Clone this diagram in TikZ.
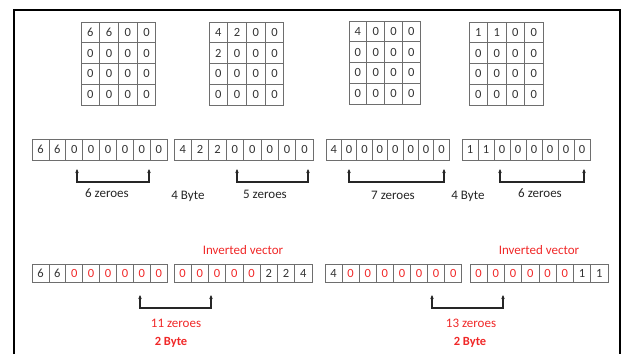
\documentclass[tikz,border=0pt]{standalone}
\usepackage{fontspec}
\setmainfont{Carlito}
\usetikzlibrary{arrows.meta}
\definecolor{txtred}{RGB}{240,40,40}
\definecolor{cellline}{RGB}{110,110,110}
\tikzset{
  cell/.style={draw=cellline, line width=0.8pt, inner sep=0pt, outer sep=0pt, text=black!80, font=\fontsize{12.5}{14}\selectfont},
  brk/.style={draw=black!85, line width=1.1pt, {Stealth[length=4pt,width=3.5pt]}-{Stealth[length=4pt,width=3.5pt]}},
  lbl/.style={inner sep=0pt, font=\fontsize{13}{15}\selectfont, text=black!85},
  rlbl/.style={inner sep=0pt, font=\fontsize{13}{15}\selectfont, text=txtred},
  blbl/.style={inner sep=0pt, font=\fontsize{12.5}{15}\selectfont\bfseries, text=txtred},
  frame/.style={draw=black, line width=2pt}
}
\newcommand\mygrid[5]{%
  \foreach \row [count=\r] in {#5} {
    \foreach \v [count=\c] in \row {
      \node[cell, minimum width=#4pt, minimum height=20.75pt] (#1-\r-\c) at ({#2+(\c-0.5)*#4},{#3+(\r-0.5)*20.75}) {\v};
    }
  }%
}
\newcommand\myvec[6]{%
  \foreach \v/\cl [count=\i] in {#6} {
    \node[cell, text=\cl, minimum width=#4pt, minimum height=#5pt] (#1-\i) at ({#2+(\i-0.5)*#4},{#3+#5/2}) {\v};
  }%
}
\begin{document}
\begin{tikzpicture}[x=1pt,y=-1pt]
\useasboundingbox (0,0) rectangle (623,354);
\draw[frame] (14,354) -- (14,10) -- (620,10) -- (620,354);

% matrices
\mygrid{ma}{81}{22}{18.7}{{6,6,0,0},{0,0,0,0},{0,0,0,0},{0,0,0,0}}
\mygrid{mb}{209}{22}{18.7}{{4,2,0,0},{2,0,0,0},{0,0,0,0},{0,0,0,0}}
\mygrid{mc}{349}{21}{17.8}{{4,0,0,0},{0,0,0,0},{0,0,0,0},{0,0,0,0}}
\mygrid{md}{469}{22}{18.5}{{1,1,0,0},{0,0,0,0},{0,0,0,0},{0,0,0,0}}

% first vectors
\myvec{va}{32}{139}{16.9}{21}{6/black!80,6/black!80,0/black!80,0/black!80,0/black!80,0/black!80,0/black!80,0/black!80}
\myvec{vb}{174}{139}{17.4}{21}{4/black!80,2/black!80,2/black!80,0/black!80,0/black!80,0/black!80,0/black!80,0/black!80}
\myvec{vc}{326}{139}{15.4}{21}{4/black!80,0/black!80,0/black!80,0/black!80,0/black!80,0/black!80,0/black!80,0/black!80}
\myvec{vd}{462}{139}{16}{21}{1/black!80,1/black!80,0/black!80,0/black!80,0/black!80,0/black!80,0/black!80,0/black!80}

\coordinate (ba1) at (77,169);  \coordinate (ba2) at (149,169);
\coordinate (bb1) at (237,169); \coordinate (bb2) at (308,169);
\coordinate (bc1) at (349,169); \coordinate (bc2) at (444,169);
\coordinate (bd1) at (500,169); \coordinate (bd2) at (584,169);
\draw[brk] (ba1) -- ++(0,13) -| (ba2);
\draw[brk] (bb1) -- ++(0,13) -| (bb2);
\draw[brk] (bc1) -- ++(0,13) -| (bc2);
\draw[brk] (bd1) -- ++(0,13) -| (bd2);

\node[lbl] (ta) at (107,193) {6 zeroes};
\node[lbl] (tab) at (188,196) {4 Byte};
\node[lbl] (tb) at (265,194) {5 zeroes};
\node[lbl] (tc) at (393,195) {7 zeroes};
\node[lbl] (tcd) at (468,196) {4 Byte};
\node[lbl] (td) at (540,193) {6 zeroes};

% second vectors
\myvec{ve}{32}{264}{16.9}{18}{6/black!80,6/black!80,0/txtred,0/txtred,0/txtred,0/txtred,0/txtred,0/txtred}
\myvec{vf}{174}{264}{17.25}{18}{0/txtred,0/txtred,0/txtred,0/txtred,0/txtred,2/black!80,2/black!80,4/black!80}
\myvec{vg}{325}{264}{17.1}{18}{4/black!80,0/txtred,0/txtred,0/txtred,0/txtred,0/txtred,0/txtred,0/txtred}
\myvec{vh}{470}{264}{17.25}{18}{0/txtred,0/txtred,0/txtred,0/txtred,0/txtred,0/txtred,1/black!80,1/black!80}

\node[rlbl] (iva) at (243,250) {Inverted vector};
\node[rlbl] (ivb) at (539,250) {Inverted vector};

\coordinate (be1) at (140,295); \coordinate (be2) at (211,295);
\coordinate (bg1) at (432,295); \coordinate (bg2) at (503,295);
\draw[brk] (be1) -- ++(0,13) -| (be2);
\draw[brk] (bg1) -- ++(0,13) -| (bg2);

\node[rlbl] (te) at (176,323) {11 zeroes};
\node[rlbl] (tg) at (471,323) {13 zeroes};
\node[blbl] (be) at (171,342) {2 Byte};
\node[blbl] (bg) at (470,342) {2 Byte};
\end{tikzpicture}
\end{document}
